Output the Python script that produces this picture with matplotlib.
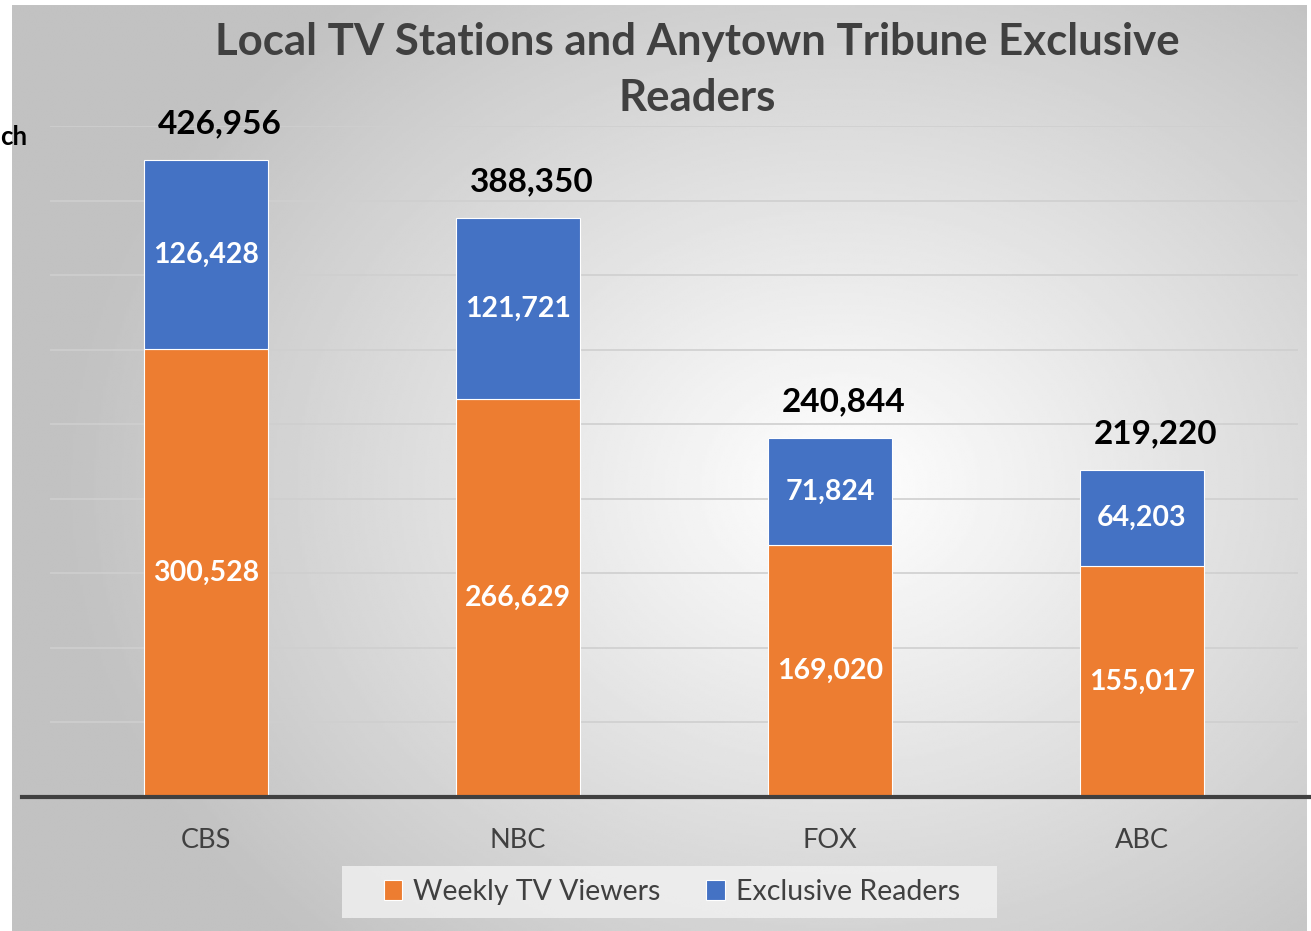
import numpy as np
import matplotlib
matplotlib.use("Agg")
import matplotlib.pyplot as plt
from matplotlib.lines import Line2D
from matplotlib.patches import Rectangle

plt.rcParams['font.family'] = ['Lato', 'DejaVu Sans']

stations = ['CBS', 'NBC', 'FOX', 'ABC']
weekly_viewers = [300528, 266629, 169020, 155017]
exclusive_readers = [126428, 121721, 71824, 64203]
totals = [426956, 388350, 240844, 219220]

ORANGE = '#ED7D31'
BLUE = '#4472C4'
DARK = '#404040'

W, H = 1311, 931
fig = plt.figure(figsize=(W / 100, H / 100), dpi=100)
fig.patch.set_facecolor('white')

# radial gradient background (chart area, leaving thin white strip top/left)
bg = fig.add_axes([12 / W, 0, (1307 - 12) / W, (H - 5) / H], zorder=0)
yy, xx = np.mgrid[0:1:400j, 0:1:560j]
r = np.sqrt(((xx - 0.64) / 0.75) ** 2 + ((yy - 0.52) / 0.85) ** 2)
shade = np.clip(1.0 - 0.30 * r, 0.76, 1.0)
bg.imshow(shade, cmap='gray', vmin=0, vmax=1, aspect='auto',
          extent=[0, 1, 0, 1], origin='upper', interpolation='bilinear')
bg.axis('off')

ax = fig.add_axes([50 / W, (H - 797) / H, 1248 / W, (797 - 126) / H], zorder=1)
ax.patch.set_alpha(0)

x = np.arange(len(stations))
bw = 124 / 312
b1 = ax.bar(x, weekly_viewers, bw, color=ORANGE, edgecolor='white',
            linewidth=0.8, label='Weekly TV Viewers', zorder=3)
b2 = ax.bar(x, exclusive_readers, bw, bottom=weekly_viewers, color=BLUE,
            edgecolor='white', linewidth=0.8, label='Exclusive Readers', zorder=3)

for i in range(len(stations)):
    ax.text(x[i], weekly_viewers[i] / 2, f'{weekly_viewers[i]:,}', ha='center',
            va='center', color='white', fontsize=20.5, fontweight='bold', zorder=4)
    ax.text(x[i], weekly_viewers[i] + exclusive_readers[i] / 2,
            f'{exclusive_readers[i]:,}', ha='center', va='center', color='white',
            fontsize=20.5, fontweight='bold', zorder=4)
    ax.annotate(f'{totals[i]:,}', (x[i], totals[i]), xytext=(10, 26),
                textcoords='offset points', ha='center', va='center',
                fontsize=24, fontweight='bold', color='black', zorder=4)

ax.set_xlim(-0.5, 3.5)
ax.set_ylim(0, 450000)
ax.set_yticks(np.arange(0, 450001, 50000))
ax.yaxis.grid(True, color='#cfcfcf', linewidth=1.2, zorder=0)
ax.set_axisbelow(True)
ax.tick_params(axis='y', left=False, labelleft=False)
ax.tick_params(axis='x', bottom=False, labelsize=19.5, labelcolor=DARK, pad=19)
ax.set_xticks(x)
ax.set_xticklabels(stations)
for s in ax.spines.values():
    s.set_visible(False)

# thick baseline across chart
fig.add_artist(Line2D([22 / W, 1.0], [(H - 797) / H] * 2, color='#404040',
                      linewidth=3, zorder=5))

# title, two lines
fig.text(697 / W, 1 - 42 / H, 'Local TV Stations and Anytown Tribune Exclusive',
         ha='center', va='center', fontsize=31.5, fontweight='bold', color=DARK,
         zorder=5)
fig.text(697 / W, 1 - 98 / H, 'Readers', ha='center', va='center',
         fontsize=31.5, fontweight='bold', color=DARK, zorder=5)

fig.text(0, 1 - 137 / H, 'ch', ha='left', va='center', fontsize=18.5,
         fontweight='bold', color='black', zorder=5)

# legend box background
fig.add_artist(Rectangle((342 / W, 1 - 918 / H), (997 - 342) / W, 52 / H,
                         transform=fig.transFigure, facecolor='#f2f2f2',
                         alpha=0.8, edgecolor='none', zorder=4))
leg = fig.legend(handles=[b1, b2], loc='center',
                 bbox_to_anchor=(672 / W, 1 - 892 / H), ncol=2, frameon=False,
                 fontsize=20.5, handlelength=0.65, handleheight=0.65,
                 handletextpad=0.4, columnspacing=1.6)
leg.set_zorder(6)
for t in leg.get_texts():
    t.set_color(DARK)

fig.savefig('out.png', dpi=100)
